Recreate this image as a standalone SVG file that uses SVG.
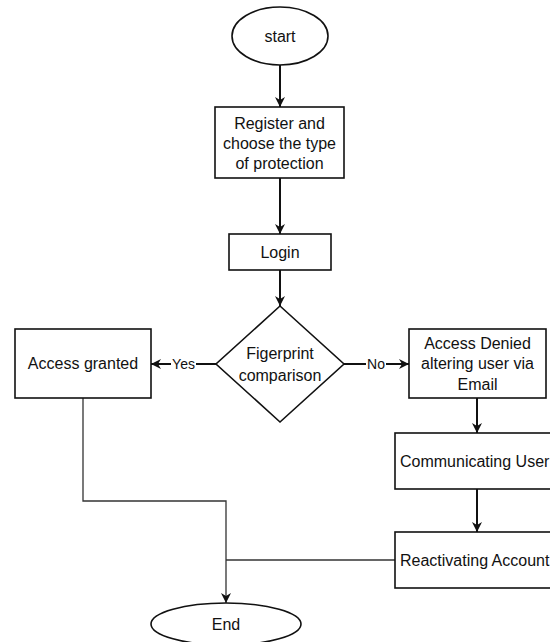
<svg xmlns="http://www.w3.org/2000/svg" width="550" height="642" viewBox="0 0 550 642">
<style>
.n{fill:#fff;stroke:#111;stroke-width:1.6}
.t{font-family:"Liberation Sans",Arial,sans-serif;font-size:16px;fill:#111;text-anchor:middle}
.l{font-family:"Liberation Sans",Arial,sans-serif;font-size:14px;fill:#111;text-anchor:middle}
.c{fill:none;stroke:#111;stroke-width:2}
.c2{fill:none;stroke:#333;stroke-width:1.3}
</style>
<defs>
<marker id="ah" viewBox="0 0 10 10" refX="10" refY="5" markerWidth="10" markerHeight="10" markerUnits="userSpaceOnUse" orient="auto">
<path d="M0,0 L10,5 L0,10 L3,5 Z" fill="#111"/>
</marker>
</defs>
<rect width="550" height="642" fill="#fff"/>
<g id="connectors">
<line class="c" x1="280" y1="65" x2="280" y2="107" marker-end="url(#ah)"/>
<line class="c" x1="280" y1="178" x2="280" y2="234" marker-end="url(#ah)"/>
<line class="c" x1="280" y1="270" x2="280" y2="306" marker-end="url(#ah)"/>
<line class="c" x1="216" y1="364" x2="151" y2="364" marker-end="url(#ah)"/>
<line class="c" x1="344" y1="364" x2="409" y2="364" marker-end="url(#ah)"/>
<line class="c" x1="477" y1="398" x2="477" y2="433" marker-end="url(#ah)"/>
<line class="c" x1="477" y1="489" x2="477" y2="532" marker-end="url(#ah)"/>
<polyline class="c2" points="83,398 83,501 226,501 226,603" marker-end="url(#ah)"/>
<line class="c2" x1="395" y1="560" x2="226" y2="560"/>
<rect x="171" y="355" width="25" height="18" fill="#fff"/>
<text class="l" x="183.5" y="369">Yes</text>
<rect x="366" y="355" width="20" height="18" fill="#fff"/>
<text class="l" x="376" y="369">No</text>
</g>
<g id="start">
<ellipse class="n" cx="280" cy="36" rx="48" ry="29"/>
<text class="t" x="280" y="41.5">start</text>
</g>
<g id="register">
<rect class="n" x="215" y="107" width="129" height="71"/>
<text class="t" x="279.5" y="128.5">Register and</text>
<text class="t" x="279.5" y="148.5">choose the type</text>
<text class="t" x="279.5" y="168.5">of protection</text>
</g>
<g id="login">
<rect class="n" x="229" y="234" width="102" height="36"/>
<text class="t" x="280" y="258">Login</text>
</g>
<g id="decision">
<polygon class="n" points="280,306 344,364 280,422 216,364"/>
<text class="t" x="280" y="358.5">Figerprint</text>
<text class="t" x="280" y="380.5">comparison</text>
</g>
<g id="granted">
<rect class="n" x="15" y="329" width="136" height="69"/>
<text class="t" x="83" y="369">Access granted</text>
</g>
<g id="denied">
<rect class="n" x="409" y="329" width="137" height="69"/>
<text class="t" x="477.5" y="348.5">Access Denied</text>
<text class="t" x="477.5" y="369">altering user via</text>
<text class="t" x="477.5" y="389.5">Email</text>
</g>
<g id="communicating">
<rect class="n" x="395" y="433" width="170" height="56"/>
<text class="t" x="400" y="466.5" style="text-anchor:start">Communicating User</text>
</g>
<g id="reactivating">
<rect class="n" x="395" y="532" width="170" height="56"/>
<text class="t" x="400" y="565.5" style="text-anchor:start">Reactivating Account</text>
</g>
<g id="end">
<ellipse class="n" cx="226" cy="624" rx="75" ry="21"/>
<text class="t" x="226" y="629.5">End</text>
</g>
</svg>
